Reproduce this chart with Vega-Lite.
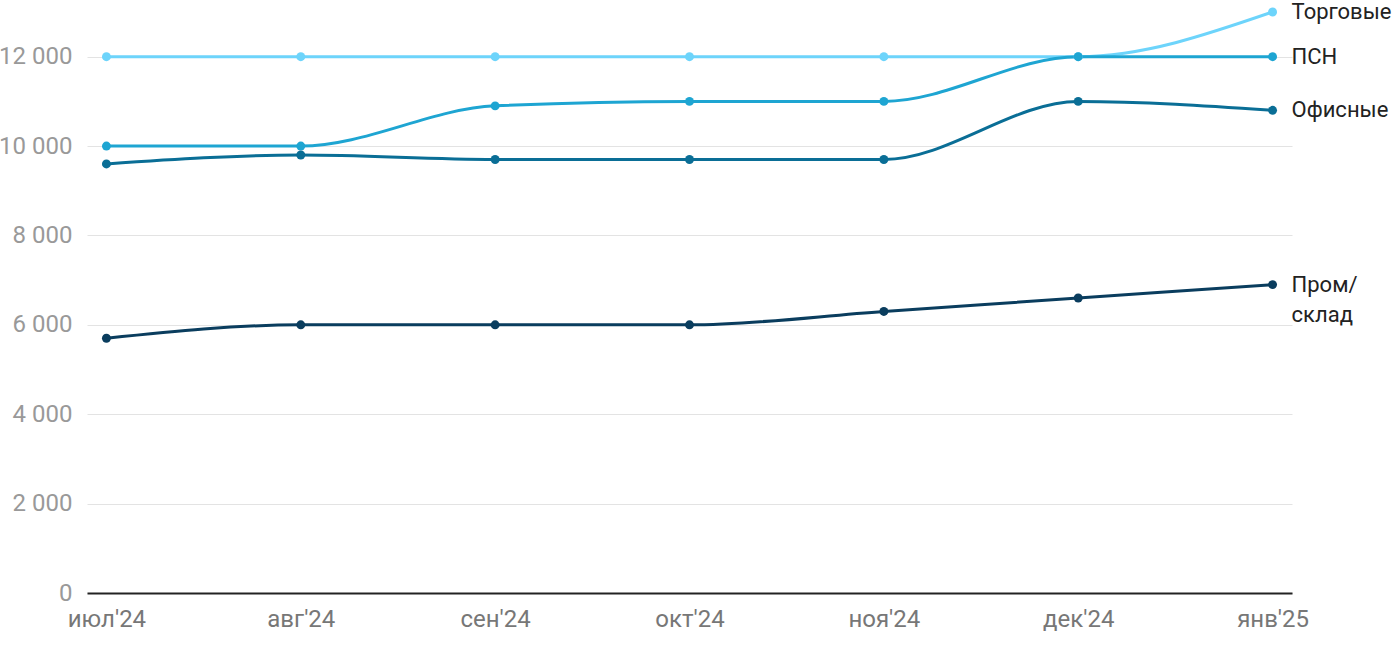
{
  "$schema": "https://vega.github.io/schema/vega-lite/v6.json",
  "width": 1205,
  "height": 581,
  "autosize": {"type": "none"},
  "padding": {"left": 87, "top": 12, "right": 108, "bottom": 57},
  "config": {
    "font": "Roboto",
    "view": {"stroke": null}
  },
  "data": {
    "values": [
      {"month": "июл'24", "series": "Торговые", "value": 12000},
      {"month": "авг'24", "series": "Торговые", "value": 12000},
      {"month": "сен'24", "series": "Торговые", "value": 12000},
      {"month": "окт'24", "series": "Торговые", "value": 12000},
      {"month": "ноя'24", "series": "Торговые", "value": 12000},
      {"month": "дек'24", "series": "Торговые", "value": 12000},
      {"month": "янв'25", "series": "Торговые", "value": 13000, "label": "Торговые"},
      {"month": "июл'24", "series": "ПСН", "value": 10000},
      {"month": "авг'24", "series": "ПСН", "value": 10000},
      {"month": "сен'24", "series": "ПСН", "value": 10900},
      {"month": "окт'24", "series": "ПСН", "value": 11000},
      {"month": "ноя'24", "series": "ПСН", "value": 11000},
      {"month": "дек'24", "series": "ПСН", "value": 12000},
      {"month": "янв'25", "series": "ПСН", "value": 12000, "label": "ПСН"},
      {"month": "июл'24", "series": "Офисные", "value": 9600},
      {"month": "авг'24", "series": "Офисные", "value": 9800},
      {"month": "сен'24", "series": "Офисные", "value": 9700},
      {"month": "окт'24", "series": "Офисные", "value": 9700},
      {"month": "ноя'24", "series": "Офисные", "value": 9700},
      {"month": "дек'24", "series": "Офисные", "value": 11000},
      {"month": "янв'25", "series": "Офисные", "value": 10800, "label": "Офисные"},
      {"month": "июл'24", "series": "Пром/склад", "value": 5700},
      {"month": "авг'24", "series": "Пром/склад", "value": 6000},
      {"month": "сен'24", "series": "Пром/склад", "value": 6000},
      {"month": "окт'24", "series": "Пром/склад", "value": 6000},
      {"month": "ноя'24", "series": "Пром/склад", "value": 6300},
      {"month": "дек'24", "series": "Пром/склад", "value": 6600},
      {"month": "янв'25", "series": "Пром/склад", "value": 6900, "label": "Пром/\nсклад"}
    ]
  },
  "encoding": {
    "x": {
      "field": "month",
      "type": "ordinal",
      "sort": ["июл'24", "авг'24", "сен'24", "окт'24", "ноя'24", "дек'24", "янв'25"],
      "scale": {"type": "point", "padding": 0.1},
      "axis": {
        "title": null,
        "labelAngle": 0,
        "labelFontSize": 24,
        "labelColor": "#777777",
        "labelPadding": 14,
        "labelFlush": false,
        "ticks": false,
        "domain": true,
        "domainColor": "#222222",
        "domainWidth": 2,
        "grid": false
      }
    },
    "y": {
      "field": "value",
      "type": "quantitative",
      "scale": {"domain": [0, 13000], "nice": false},
      "axis": {
        "title": null,
        "values": [0, 2000, 4000, 6000, 8000, 10000, 12000],
        "labelExpr": "replace(format(datum.value, ','), ',', ' ')",
        "labelFontSize": 24,
        "labelColor": "#999999",
        "labelPadding": 15,
        "ticks": false,
        "domain": false,
        "grid": true,
        "gridColor": "#e3e3e3",
        "gridWidth": 1
      }
    },
    "color": {
      "field": "series",
      "type": "nominal",
      "scale": {
        "domain": ["Торговые", "ПСН", "Офисные", "Пром/склад"],
        "range": ["#6dd4fb", "#1ea5d2", "#0a6e96", "#0a3d5e"]
      },
      "legend": null
    }
  },
  "layer": [
    {
      "mark": {"type": "line", "interpolate": "monotone", "strokeWidth": 3}
    },
    {
      "mark": {"type": "point", "filled": true, "opacity": 1, "size": 80}
    },
    {
      "transform": [{"filter": "isValid(datum.label)"}],
      "mark": {"type": "text", "align": "left", "baseline": "middle", "dx": 19, "fontSize": 22, "lineBreak": "\n", "lineHeight": 30},
      "encoding": {
        "text": {"field": "label"},
        "color": {"value": "#222222"}
      }
    }
  ]
}
